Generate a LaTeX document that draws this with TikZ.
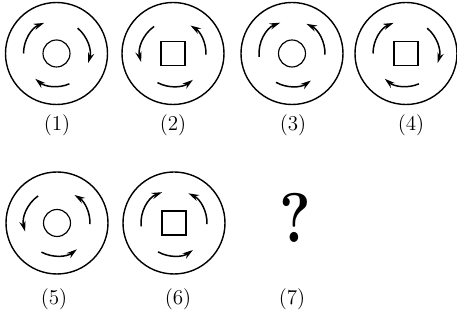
\documentclass[tikz,border=0pt]{standalone}
\usetikzlibrary{arrows.meta}
\tikzset{
  aro/.style={circle, draw, line width=0.8pt, minimum size=2.04cm, inner sep=0pt},
  bola/.style={circle, draw, line width=0.65pt, minimum size=0.54cm, inner sep=0pt},
  cuadro/.style={rectangle, draw, line width=0.65pt, minimum size=0.48cm, inner sep=0pt},
  etiqueta/.style={font=\large},
  giro/.style={line width=0.85pt, -{Stealth[length=6pt,width=3.6pt]}},
  horario/.pic={
    \draw [giro] (180:0.66) arc [start angle=180, end angle=112, radius=0.66];
    \draw [giro] (50:0.66) arc [start angle=50, end angle=-17, radius=0.66];
    \draw [giro] (293:0.66) arc [start angle=293, end angle=230, radius=0.66];
  },
  antihorario/.pic={
    \draw [giro] (125:0.66) arc [start angle=125, end angle=195, radius=0.66];
    \draw [giro] (-2:0.66) arc [start angle=-2, end angle=58, radius=0.66];
    \draw [giro] (242:0.66) arc [start angle=242, end angle=307, radius=0.66];
  },
  mixto/.pic={
    \draw [giro] (186:0.66) arc [start angle=186, end angle=111, radius=0.66];
    \draw [giro] (-2:0.66) arc [start angle=-2, end angle=64, radius=0.66];
    \draw [giro] (241:0.66) arc [start angle=241, end angle=305, radius=0.66];
  }
}
\begin{document}
\begin{tikzpicture}
  \useasboundingbox (0,0) rectangle (9.14,6.44);
  % Fila superior
  \node (f1) [aro] at (1.13,5.37) {};
  \node (i1) [bola] at (f1) {};
  \pic at (f1) {horario};
  \node (e1) [etiqueta] at (1.14,3.94) {(1)};
  \node (f2) [aro] at (3.46,5.37) {};
  \node (i2) [cuadro] at (f2) {};
  \pic at (f2) {antihorario};
  \node (e2) [etiqueta] at (3.46,3.94) {(2)};
  \node (f3) [aro] at (5.84,5.37) {};
  \node (i3) [bola] at (f3) {};
  \pic at (f3) {mixto};
  \node (e3) [etiqueta] at (5.86,3.94) {(3)};
  \node (f4) [aro] at (8.12,5.37) {};
  \node (i4) [cuadro] at (f4) {};
  \pic at (f4) {horario};
  \node (e4) [etiqueta] at (8.22,3.94) {(4)};
  % Fila inferior
  \node (f5) [aro] at (1.14,1.98) {};
  \node (i5) [bola] at (f5) {};
  \pic at (f5) {antihorario};
  \node (e5) [etiqueta] at (1.08,0.46) {(5)};
  \node (f6) [aro] at (3.48,1.98) {};
  \node (i6) [cuadro] at (f6) {};
  \pic at (f6) {mixto};
  \node (e6) [etiqueta] at (3.56,0.46) {(6)};
  \node (q7) [font=\fontsize{40}{40}\selectfont\bfseries] at (5.9,2.08) {\scalebox{0.85}[1]{?}};
  \node (e7) [etiqueta] at (5.84,0.46) {(7)};
\end{tikzpicture}
\end{document}
